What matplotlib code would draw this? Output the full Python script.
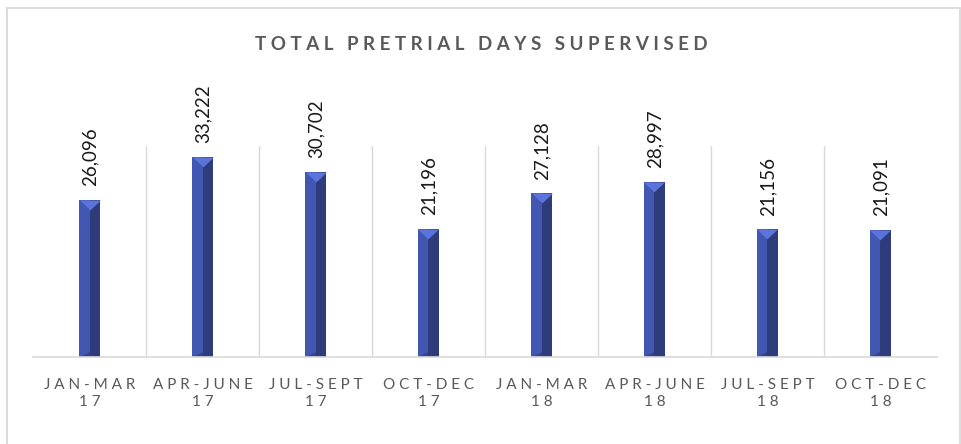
import numpy as np
import matplotlib.pyplot as plt
from matplotlib.patches import Rectangle
from matplotlib.path import Path

# data
periods = ['JAN-MAR', 'APR-JUNE', 'JUL-SEPT', 'OCT-DEC',
           'JAN-MAR', 'APR-JUNE', 'JUL-SEPT', 'OCT-DEC']
years = ['17', '17', '17', '17', '18', '18', '18', '18']
days = [26096, 33222, 30702, 21196, 27128, 28997, 21156, 21091]

FONTS = ['Lato', 'DejaVu Sans']


def spaced(s):
    # fake letter spacing
    return ' '.join(s)


fig = plt.figure(figsize=(9.62, 4.44), dpi=100)
ax = fig.add_axes([33 / 962, 1 - 357 / 444, 904 / 962, 211 / 444])

x = np.arange(len(days))
w = 0.19
light = '#4257b2'
dark = '#2e3c7c'
top = '#5a74db'

# beveled bars: full light bar, darker right half, light cap on top
ax.bar(x, days, width=w, color=light, linewidth=0, zorder=3)
ax.bar(x, days, width=w / 2, align='edge', color=dark, linewidth=0, zorder=3)
cap = Path([(-1, 0), (1, 0), (0, -0.95), (-1, 0)],
           [Path.MOVETO, Path.LINETO, Path.LINETO, Path.CLOSEPOLY])
ax.plot(x, days, linestyle='none', marker=cap, markersize=15,
        color=top, markeredgewidth=0, zorder=4)
base = Path([(-1, 0), (0, 0), (0, 0.5), (-1, 0)],
            [Path.MOVETO, Path.LINETO, Path.LINETO, Path.CLOSEPOLY])
ax.plot(x, np.zeros(len(days)), linestyle='none', marker=base, markersize=15,
        color='#34448c', markeredgewidth=0, zorder=4, clip_on=False)

for xi, v in zip(x, days):
    ax.annotate(f'{v:,}', (xi, v), xytext=(0.5, 10), textcoords='offset points',
                rotation=90, ha='center', va='bottom', fontsize=13.5,
                color='#1a1a1a', family=FONTS)

ax.set_xlim(-0.5, len(days) - 0.5)
ax.set_ylim(0, 35000)
ax.set_yticks([])
for b in np.arange(0.5, len(days) - 0.5, 1):
    ax.axvline(b, color='#d9d9d9', linewidth=1, zorder=1)
for s in ['top', 'left', 'right']:
    ax.spines[s].set_visible(False)
ax.spines['bottom'].set_color('#d9d9d9')
ax.spines['bottom'].set_linewidth(1.2)
ax.spines['bottom'].set_zorder(5)

ax.set_xticks(x)
ax.set_xticklabels([spaced(p) + '\n' + spaced(y) for p, y in zip(periods, years)],
                   fontsize=11, color='#595959', family=FONTS,
                   linespacing=1.3)
ax.tick_params(axis='x', length=0, pad=15)

fig.text(0.5, 1 - 45 / 444, spaced('TOTAL PRETRIAL DAYS SUPERVISED'),
         ha='center', va='center', fontsize=13.5, fontweight='bold',
         color='#595959', family=FONTS)

# chart border
fig.patches.append(Rectangle((7.5 / 962, -0.05), 953 / 962, 1.05 - 8.5 / 444,
                             transform=fig.transFigure, fill=False,
                             edgecolor='#d9d9d9', linewidth=1.3))

fig.savefig('out.png', dpi=100)
